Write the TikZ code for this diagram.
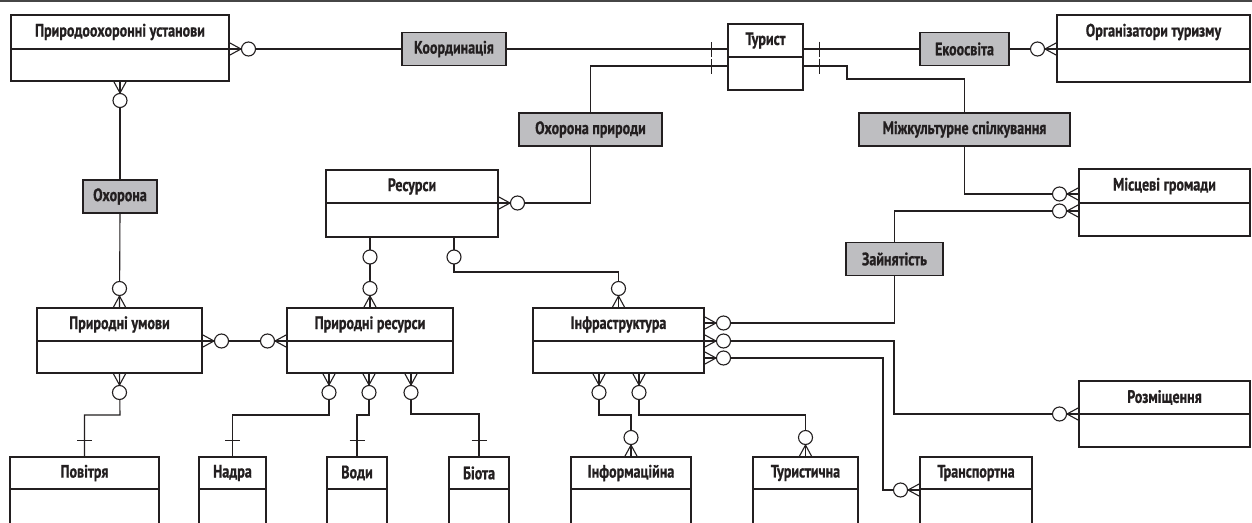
\documentclass[tikz,border=0pt]{standalone}
\usepackage{fontspec}
\setmainfont{PT Sans}[FakeStretch=0.78, BoldFont={PT Sans Bold}, BoldFeatures={FakeBold=0.8}]
\usetikzlibrary{calc}
\definecolor{ink}{RGB}{35,31,32}
\definecolor{lgray}{RGB}{190,190,193}
\definecolor{topline}{RGB}{70,70,70}
\tikzset{
  conn/.style={draw=ink, line width=1.1pt, line cap=butt},
  ebox/.style={draw=ink, line width=1.1pt, inner sep=0pt, outer sep=0pt, anchor=north west},
  etext/.style={inner sep=0pt, text=ink, font=\bfseries\fontsize{18}{21}\selectfont},
  lbl/.style={draw=ink, fill=lgray, line width=1.1pt, inner sep=0pt, outer sep=0pt, minimum height=33pt, text=ink, font=\bfseries\fontsize{18}{21}\selectfont}
}
\newcommand\entity[7]{%
  \node[ebox, minimum width={#4pt-#2pt}, minimum height={#5pt-#3pt}] (#1) at (#2,#3) {};
  \draw[conn] (#2,#6) -- (#4,#6);
  \node[etext] (#1-t) at ({(#2+#4)/2},{(#3+#6)/2}) {#7};
}
\newcommand\crow[2]{\begin{scope}[shift={#1},rotate=#2]
  \draw[conn] (0,6.5) -- (12,0) -- (0,-6.5);
  \draw[conn,fill=white] (19.5,0) circle[radius=7];
\end{scope}}
\newcommand\ocirc[2]{\begin{scope}[shift={#1},rotate=#2]
  \draw[conn,fill=white] (20,0) circle[radius=7];
\end{scope}}
\newcommand\onetick[2]{\begin{scope}[shift={#1},rotate=#2]
  \draw[conn] (16.5,-7.5) -- (16.5,7.5);
\end{scope}}
\begin{document}
\begin{tikzpicture}[x=1pt,y=-1pt]
\useasboundingbox (0,0) rectangle (1252,522);
\clip (0,0) rectangle (1252,522);
\fill[white] (0,0) rectangle (1252,522);
\draw[line width=1.6pt, draw=topline] (0,0.8) -- (1252,0.8);

% entities
\entity{pu}{11}{15}{229}{81}{49}{Природоохоронні установи}
\entity{tur}{728}{24}{803}{90}{57}{Турист}
\entity{org}{1057}{15}{1250}{82}{49}{Організатори туризму}
\entity{res}{326}{170}{498}{237}{203}{Ресурси}
\entity{mg}{1079}{169}{1250}{236}{203}{Місцеві громади}
\entity{pum}{37}{308}{202}{373}{341}{Природні умови}
\entity{pr}{287}{308}{453}{373}{341}{Природні ресурси}
\entity{inf}{533}{308}{704}{373}{341}{Інфраструктура}
\entity{roz}{1079}{381}{1250}{447}{414}{Розміщення}
\entity{pov}{10}{457}{159}{525}{489}{Повітря}
\entity{nad}{199}{457}{266}{525}{489}{Надра}
\entity{vod}{327}{457}{387}{525}{489}{Води}
\entity{bio}{449}{457}{509}{525}{489}{Біота}
\entity{infm}{571}{457}{691}{525}{489}{Інформаційна}
\entity{tury}{753}{457}{858}{525}{489}{Туристична}
\entity{tran}{920}{457}{1032}{525}{489}{Транспортна}

% relationship labels
\node[lbl, minimum width=104pt] (koord) at (454,49) {Координація};
\node[lbl, minimum width=89pt] (eko) at (964.5,49) {Екоосвіта};
\node[lbl, minimum width=143pt] (ohp) at (590.5,129.5) {Охорона природи};
\node[lbl, minimum width=211pt] (mizh) at (964.5,129.5) {Міжкультурне спілкування};
\node[lbl, minimum width=74pt] (oh) at (120,196.5) {Охорона};
\node[lbl, minimum width=97pt] (zayn) at (894.5,259) {Зайнятість};

% connectors
\draw[conn] (pu.east |- 0,49) -- (koord.west);
\draw[conn] (koord.east) -- (tur.west |- 0,49);
\draw[conn] (tur.east |- 0,49) -- (eko.west);
\draw[conn] (eko.east) -- (org.west |- 0,49);
\draw[conn] (tur.west |- 0,66) -| (ohp.north);
\draw[conn] (ohp.south) |- (res.east |- 0,203);
\draw[conn] (tur.east |- 0,66) -- (847,66) -- (847,79) -| (mizh.north);
\draw[conn] (mizh.south) |- (mg.west |- 0,194);
\draw[conn] (mg.west |- 0,211) -| (zayn.north);
\draw[conn] (zayn.south) |- (inf.east |- 0,323);
\draw[conn] (inf.east |- 0,341) -- (894,341) |- (roz.west |- 0,414);
\draw[conn] (inf.east |- 0,358) -- (883,358) |- (tran.west |- 0,490);
\draw[conn] (pu.south) -- (oh.north);
\draw[conn] (oh.south) -- (pum.north);
\draw[conn] (pum.east |- 0,341) -- (pr.west |- 0,341);
\draw[conn] (res.south -| 370,0) -- (pr.north -| 370,0);
\draw[conn] (res.south -| 454,0) -- (454,272) -| (inf.north);
\draw[conn] (pum.south) -- (120,415) -| (pov.north);
\draw[conn] (pr.south -| 329,0) -- (329,415) -| (nad.north);
\draw[conn] (pr.south -| 369,0) -- (369,415) -| (vod.north);
\draw[conn] (pr.south -| 411,0) -- (411,414) -| (bio.north);
\draw[conn] (inf.south -| 599,0) -- (599,415) -| (infm.north);
\draw[conn] (inf.south -| 639,0) -- (639,415) -| (tury.north);

% cardinality marks
\crow{(pu.east |- 0,49)}{0}
\onetick{(tur.west |- 0,49)}{180}
\onetick{(tur.west |- 0,66)}{180}
\onetick{(tur.east |- 0,49)}{0}
\onetick{(tur.east |- 0,66)}{0}
\crow{(org.west |- 0,49)}{180}
\crow{(res.east |- 0,203)}{0}
\crow{(mg.west |- 0,194)}{180}
\crow{(mg.west |- 0,211)}{180}
\crow{(inf.east |- 0,323)}{0}
\crow{(inf.east |- 0,341)}{0}
\crow{(inf.east |- 0,358)}{0}
\crow{(roz.west |- 0,414)}{180}
\crow{(tran.west |- 0,490)}{180}
\crow{(pu.south)}{-90}
\crow{(pum.north)}{90}
\crow{(pum.east |- 0,341)}{0}
\crow{(pr.west |- 0,341)}{180}
\ocirc{(res.south -| 370,0)}{-90}
\ocirc{(res.south -| 454,0)}{-90}
\crow{(pr.north -| 370,0)}{90}
\crow{(inf.north)}{90}
\crow{(pum.south)}{-90}
\crow{(pr.south -| 329,0)}{-90}
\crow{(pr.south -| 369,0)}{-90}
\crow{(pr.south -| 411,0)}{-90}
\onetick{(pov.north)}{90}
\onetick{(nad.north)}{90}
\onetick{(vod.north)}{90}
\onetick{(bio.north)}{90}
\crow{(inf.south -| 599,0)}{-90}
\crow{(inf.south -| 639,0)}{-90}
\crow{(infm.north)}{90}
\crow{(tury.north)}{90}
\end{tikzpicture}
\end{document}
